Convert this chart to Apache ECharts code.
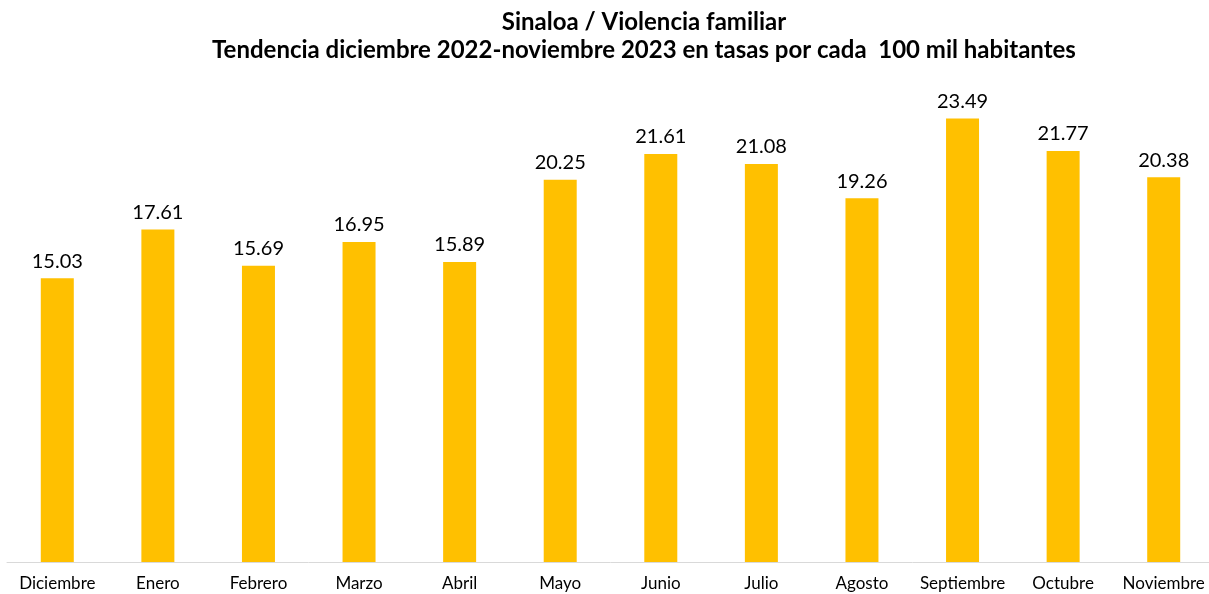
<!DOCTYPE html>
<html><head><meta charset="utf-8">
<script src="https://cdn.jsdelivr.net/npm/echarts@6/dist/echarts.min.js"></script>
<style>html,body{margin:0;padding:0;background:#fff;overflow:hidden}#c{width:1215px;height:594px}</style>
</head><body><div id="c"></div>
<script>
const titleLine1 = 'Sinaloa / Violencia familiar';
const titleLine2 = 'Tendencia diciembre 2022-noviembre 2023 en tasas por cada  100 mil habitantes';
const categories = ['Diciembre','Enero','Febrero','Marzo','Abril','Mayo','Junio','Julio','Agosto','Septiembre','Octubre','Noviembre'];
const values = [15.03,17.61,15.69,16.95,15.89,20.25,21.61,21.08,19.26,23.49,21.77,20.38];

const chart = echarts.init(document.getElementById('c'));
chart.setOption({
  animation:false,
  backgroundColor:'#fff',
  title:{
    text: titleLine1 + '\n' + titleLine2,
    left: 639, top: 3, textAlign:'center',
    textStyle:{fontFamily:'Lato', fontWeight:'bold', fontSize:24, color:'#000', lineHeight:28}
  },
  grid:{left:7, width:1207, top:90, bottom:32, containLabel:false},
  xAxis:{
    type:'category', data:categories,
    axisLine:{lineStyle:{color:'#d9d9d9', width:1}},
    axisTick:{show:false},
    axisLabel:{fontFamily:'Lato', fontSize:17, color:'#000', margin:13, interval:0}
  },
  yAxis:{type:'value', min:0, max:25, show:false, splitLine:{show:false}},
  series:[{
    type:'bar', data:values, barWidth:33,
    itemStyle:{color:'#FFC000'},
    label:{show:true, position:'top', distance:7, fontFamily:'Lato', fontSize:20, color:'#000',
      formatter:p=>p.value.toFixed(2)}
  }]
});
</script></body></html>
